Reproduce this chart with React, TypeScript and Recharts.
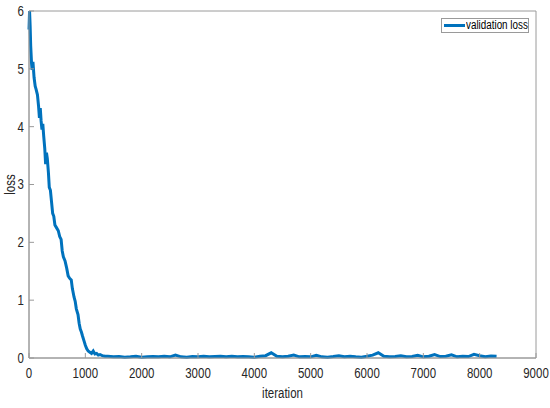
import React from 'react';
import { LineChart, Line, XAxis, YAxis, Legend, ReferenceArea } from 'recharts';

// iteration / validation loss
const iterations = [
    0, 10, 20, 30, 45, 55, 70, 90, 110, 125, 150, 170, 185, 200, 215, 230, 245, 260, 280, 295,
    310, 325, 345, 360, 380, 400, 420, 440, 460, 490, 520, 545, 570, 590, 610, 640, 670, 695, 720, 750,
    770, 800, 820, 840, 870, 890, 910, 930, 950, 975, 1000, 1025, 1050, 1080, 1110, 1140, 1170, 1200, 1230, 1260,
    1300, 1350,
    1400, 1500, 1600, 1700, 1800, 1900, 2000, 2100, 2200, 2300, 2400, 2500, 2600, 2700, 2800, 2900, 3000,
    3100, 3200, 3300, 3400, 3500, 3600, 3700, 3800, 3900, 4000, 4100, 4200, 4300, 4400, 4500, 4600, 4700,
    4800, 4900, 5000, 5100, 5200, 5300, 5400, 5500, 5600, 5700, 5800, 5900, 6000, 6100, 6200, 6300, 6400,
    6500, 6600, 6700, 6800, 6900, 7000, 7100, 7200, 7300, 7400, 7500, 7600, 7700, 7800, 7900, 8000, 8100,
    8200, 8300
];

const validationLoss = [
    5.68, 6.0, 5.75, 5.4, 5.1, 4.98, 5.12, 4.85, 4.7, 4.65, 4.55, 4.35, 4.15, 4.32, 4.1, 3.95, 4.05, 3.85, 3.62, 3.35,
    3.55, 3.45, 3.2, 2.95, 2.9, 2.7, 2.5, 2.45, 2.3, 2.25, 2.2, 2.1, 2.05, 1.85, 1.75, 1.68, 1.55, 1.42, 1.38, 1.35,
    1.2, 1.05, 0.98, 0.85, 0.75, 0.6, 0.5, 0.45, 0.38, 0.3, 0.22, 0.16, 0.12, 0.1, 0.08, 0.12, 0.07, 0.08, 0.05, 0.06,
    0.04, 0.03,
    0.03, 0.02, 0.025, 0.015, 0.02, 0.03, 0.015, 0.02, 0.025, 0.02, 0.03, 0.02, 0.05, 0.02, 0.015, 0.025, 0.02,
    0.03, 0.02, 0.025, 0.03, 0.02, 0.03, 0.02, 0.025, 0.02, 0.015, 0.03, 0.04, 0.09, 0.03, 0.02, 0.03, 0.05,
    0.02, 0.025, 0.02, 0.045, 0.02, 0.015, 0.025, 0.04, 0.02, 0.03, 0.02, 0.015, 0.03, 0.05, 0.09, 0.03, 0.02,
    0.025, 0.04, 0.02, 0.025, 0.045, 0.02, 0.03, 0.06, 0.025, 0.03, 0.055, 0.02, 0.03, 0.025, 0.065, 0.04, 0.02,
    0.035, 0.03
];

const xTicks = [0, 1000, 2000, 3000, 4000, 5000, 6000, 7000, 8000, 9000];
const yTicks = [0, 1, 2, 3, 4, 5, 6];

const data = iterations.map((it, i) => ({ iteration: it, loss: validationLoss[i] }));

const LINE_COLOR = '#0072BD';
const BOX_COLOR = '#9a9a9a';
const TEXT_COLOR = '#262626';
const FONT = '"Liberation Sans", Arial, sans-serif';
const SQUEEZE = 0.82; // the reference text is horizontally condensed

const boxLine = { stroke: BOX_COLOR, strokeWidth: 1 };

// tick label drawn a bit narrower, like the reference
const CondensedTick = (props: any) => {
    const { x, y, payload, textAnchor, verticalAnchor } = props;
    const dy = verticalAnchor === 'start' ? '0.71em' : verticalAnchor === 'end' ? '0' : '0.355em';
    return (
        <g transform={`translate(${x},${y}) scale(${SQUEEZE},1)`}>
            <text x={0} y={0} dy={dy} textAnchor={textAnchor} fontSize={14} fill={TEXT_COLOR} fontFamily={FONT}>
                {payload.value}
            </text>
        </g>
    );
};

// MATLAB style legend box
const LegendBox = () => (
    <div
        style={{
            position: 'relative',
            border: `1px solid ${BOX_COLOR}`,
            background: '#fff',
            height: 15,
            width: 88,
            boxSizing: 'border-box',
            fontFamily: FONT,
            fontSize: 12,
            color: '#000',
            whiteSpace: 'nowrap'
        }}
    >
        <span style={{ position: 'absolute', left: 2, top: 5, width: 21, height: 3, background: LINE_COLOR }} />
        <span
            style={{
                position: 'absolute',
                left: 24,
                top: -1,
                lineHeight: '15px',
                transform: `scaleX(${SQUEEZE})`,
                transformOrigin: 'left center'
            }}
        >
            validation loss
        </span>
    </div>
);

export default function App() {
    return (
        <div style={{ position: 'absolute', left: 0, top: 0, width: 550, height: 408, background: '#fff' }}>
            <LineChart width={550} height={408} data={data} margin={{ top: 11, right: 14, bottom: 20, left: 0 }}>
                {/* full box around the plot area */}
                <ReferenceArea
                    xAxisId="bottom"
                    yAxisId="left"
                    x1={0}
                    x2={9000}
                    y1={0}
                    y2={6}
                    fill="none"
                    fillOpacity={0}
                    stroke={BOX_COLOR}
                    strokeWidth={1}
                    ifOverflow="visible"
                />
                <XAxis
                    xAxisId="bottom"
                    dataKey="iteration"
                    type="number"
                    domain={[0, 9000]}
                    ticks={xTicks}
                    height={30}
                    tickSize={-5}
                    tickMargin={15}
                    axisLine={boxLine}
                    tickLine={boxLine}
                    tick={(p: any) => <CondensedTick {...p} />}
                    interval={0}
                    label={({ viewBox }: any) => (
                        <g transform={`translate(${viewBox.x + viewBox.width / 2},${viewBox.y + viewBox.height + 10}) scale(${SQUEEZE},1)`}>
                            <text x={0} y={0} textAnchor="middle" fontSize={14} fill={TEXT_COLOR} fontFamily={FONT}>
                                iteration
                            </text>
                        </g>
                    )}
                />
                <XAxis
                    xAxisId="top"
                    orientation="top"
                    dataKey="iteration"
                    type="number"
                    domain={[0, 9000]}
                    ticks={xTicks}
                    height={0}
                    tickSize={-5}
                    axisLine={boxLine}
                    tickLine={boxLine}
                    tick={false}
                />
                <YAxis
                    yAxisId="left"
                    type="number"
                    domain={[0, 6]}
                    ticks={yTicks}
                    width={29}
                    tickSize={-5}
                    tickMargin={10}
                    axisLine={boxLine}
                    tickLine={boxLine}
                    tick={(p: any) => <CondensedTick {...p} />}
                    interval={0}
                    label={({ viewBox }: any) => (
                        <g transform={`translate(15,${viewBox.y + viewBox.height / 2}) rotate(-90) scale(${SQUEEZE},1)`}>
                            <text x={0} y={0} textAnchor="middle" fontSize={14} fill={TEXT_COLOR} fontFamily={FONT}>
                                loss
                            </text>
                        </g>
                    )}
                />
                <YAxis
                    yAxisId="right"
                    orientation="right"
                    type="number"
                    domain={[0, 6]}
                    ticks={yTicks}
                    width={0}
                    tickSize={-5}
                    axisLine={boxLine}
                    tickLine={boxLine}
                    tick={false}
                />
                <Legend
                    layout="horizontal"
                    verticalAlign="middle"
                    align="center"
                    content={<LegendBox />}
                    wrapperStyle={{ position: 'absolute', top: 18, left: 441, width: 88 }}
                />
                <Line
                    xAxisId="bottom"
                    yAxisId="left"
                    type="linear"
                    dataKey="loss"
                    stroke={LINE_COLOR}
                    strokeWidth={3}
                    dot={false}
                    isAnimationActive={false}
                    legendType="line"
                />
            </LineChart>
        </div>
    );
}
